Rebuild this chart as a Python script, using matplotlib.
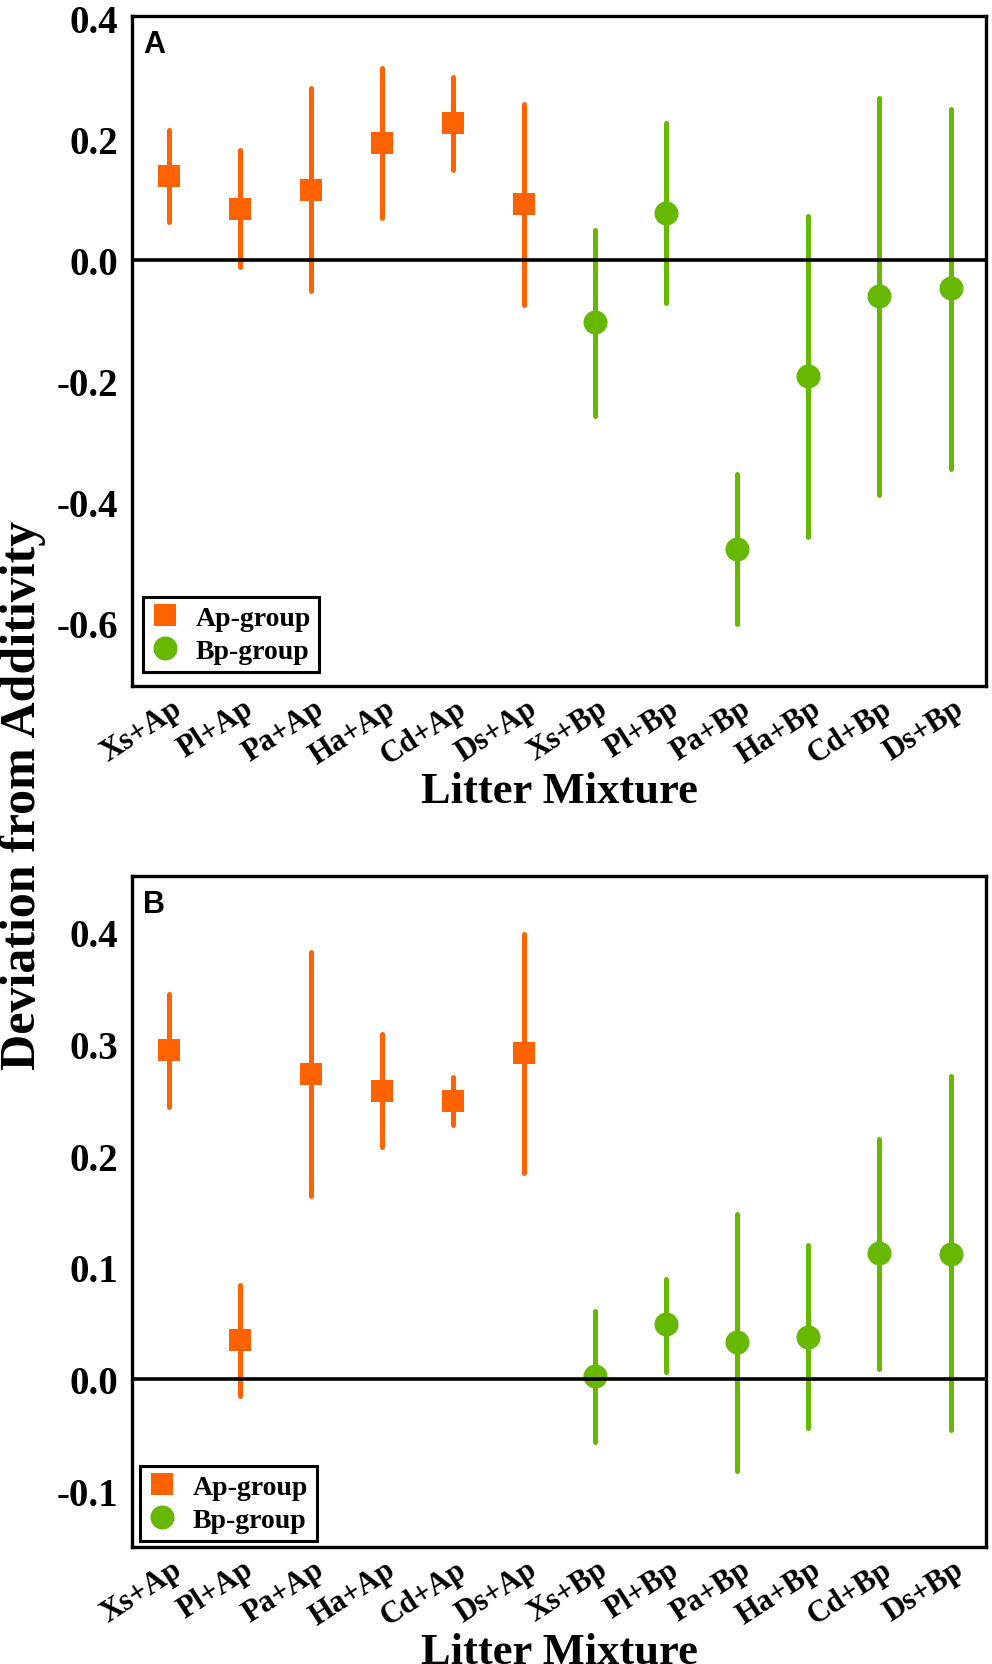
import numpy as np
import matplotlib
matplotlib.use('Agg')
import matplotlib.pyplot as plt
import matplotlib.transforms as mtransforms
from matplotlib.lines import Line2D

plt.rcParams['font.family'] = ['Liberation Serif', 'DejaVu Serif']
plt.rcParams['font.weight'] = 'bold'
plt.rcParams['axes.unicode_minus'] = False

# litter mixtures on the x axis
mixtures = ['Xs+Ap', 'Pl+Ap', 'Pa+Ap', 'Ha+Ap', 'Cd+Ap', 'Ds+Ap',
            'Xs+Bp', 'Pl+Bp', 'Pa+Bp', 'Ha+Bp', 'Cd+Bp', 'Ds+Bp']
n_ap = 6  # first six belong to the Ap-group

# panel A: mean deviation and interval
a_mean = [0.138, 0.084, 0.116, 0.193, 0.226, 0.092,
          -0.103, 0.078, -0.478, -0.192, -0.059, -0.047]
a_low = [0.062, -0.012, -0.052, 0.069, 0.148, -0.075,
         -0.258, -0.072, -0.601, -0.458, -0.388, -0.345]
a_high = [0.214, 0.181, 0.284, 0.317, 0.303, 0.257,
          0.050, 0.227, -0.354, 0.073, 0.268, 0.249]

# panel B
b_mean = [0.294, 0.035, 0.273, 0.258, 0.249, 0.292,
          0.003, 0.049, 0.033, 0.038, 0.113, 0.112]
b_low = [0.243, -0.015, 0.164, 0.208, 0.227, 0.184,
         -0.056, 0.006, -0.082, -0.044, 0.009, -0.045]
b_high = [0.344, 0.084, 0.382, 0.309, 0.270, 0.398,
          0.061, 0.090, 0.148, 0.120, 0.215, 0.271]

a_ticks = [-0.6, -0.4, -0.2, 0.0, 0.2, 0.4]
a_ticklabels = ['-0.6', '-0.4', '-0.2', '0.0', '0.2', '0.4']
b_ticks = [-0.1, 0.0, 0.1, 0.2, 0.3, 0.4]
b_ticklabels = ['-0.1', '0.0', '0.1', '0.2', '0.3', '0.4']

orange = '#FF6200'
green = '#66B900'


def draw_panel(ax, mean, low, high, ylim, ticks, ticklabels, letter, legend_anchor):
    x = np.arange(len(mixtures))
    mean = np.array(mean)
    low = np.array(low)
    high = np.array(high)
    groups = [(slice(0, n_ap), orange, 's', 15.8, 'Ap-group'),
              (slice(n_ap, None), green, 'o', 17.3, 'Bp-group')]
    for sl, col, mk, ms, lab in groups:
        eb = ax.errorbar(x[sl], mean[sl],
                         yerr=[mean[sl] - low[sl], high[sl] - mean[sl]],
                         fmt='none', ecolor=col, elinewidth=3.6, capsize=0, zorder=2)
        for lc in eb[2]:
            lc.set_capstyle('round')
        ax.plot(x[sl], mean[sl], linestyle='none', marker=mk, markersize=ms,
                color=col, markeredgewidth=0, zorder=3, label=lab)

    ax.axhline(0, color='black', linewidth=2.6, zorder=4)
    ax.set_xlim(-0.52, len(mixtures) - 0.5)
    ax.set_ylim(*ylim)
    ax.set_yticks(ticks)
    ax.set_yticklabels(ticklabels, fontsize=28, fontweight='bold')
    ax.set_xticks(x)
    ax.tick_params(axis='both', length=0)
    ax.tick_params(axis='y', pad=10)
    ax.tick_params(axis='x', pad=5.5)
    ax.set_xticklabels(mixtures, fontsize=22, fontweight='bold', rotation=33,
                       ha='right', va='top')
    # shift the rotated labels a little to the right of their ticks
    offset = mtransforms.ScaledTranslation(18 / 100, 0, ax.figure.dpi_scale_trans)
    for t in ax.get_xticklabels():
        t.set_transform(t.get_transform() + offset)
    for sp in ax.spines.values():
        sp.set_linewidth(2.4)

    ax.set_xlabel('Litter Mixture', fontsize=32, fontweight='bold', va='center')
    ax.xaxis.set_label_coords(0.5, -0.157)

    ax.text(0.013, 0.98, letter, transform=ax.transAxes, ha='left', va='top',
            fontsize=22, fontweight='bold', family=['Liberation Sans', 'DejaVu Sans'])

    handles = [Line2D([], [], linestyle='none', marker='s', markersize=15.8,
                      color=orange, markeredgewidth=0),
               Line2D([], [], linestyle='none', marker='o', markersize=17.3,
                      color=green, markeredgewidth=0)]
    leg = ax.legend(handles, ['Ap-group', 'Bp-group'], loc='lower left',
                    bbox_to_anchor=legend_anchor, borderaxespad=0,
                    fontsize=20, fancybox=False, framealpha=1, edgecolor='black',
                    handlelength=1.0, handletextpad=0.6, labelspacing=0.25,
                    borderpad=0.3)
    leg.get_frame().set_linewidth(2.2)
    for t in leg.get_texts():
        t.set_fontweight('bold')


fig = plt.figure(figsize=(9.92, 16.65), dpi=100)
ax_a = fig.add_axes([0.1331, 0.5874, 0.8609, 0.4024])
ax_b = fig.add_axes([0.1331, 0.0703, 0.8609, 0.4030])

draw_panel(ax_a, a_mean, a_low, a_high, (-0.704, 0.403), a_ticks, a_ticklabels,
           'A', (0.0125, 0.021))
draw_panel(ax_b, b_mean, b_low, b_high, (-0.150, 0.450), b_ticks, b_ticklabels,
           'B', (0.0096, 0.009))

fig.text(0.023, 0.5225, 'Deviation from Additivity', rotation=90, ha='center',
         va='center', fontsize=36, fontweight='bold')

fig.savefig('out.png', dpi=100)
